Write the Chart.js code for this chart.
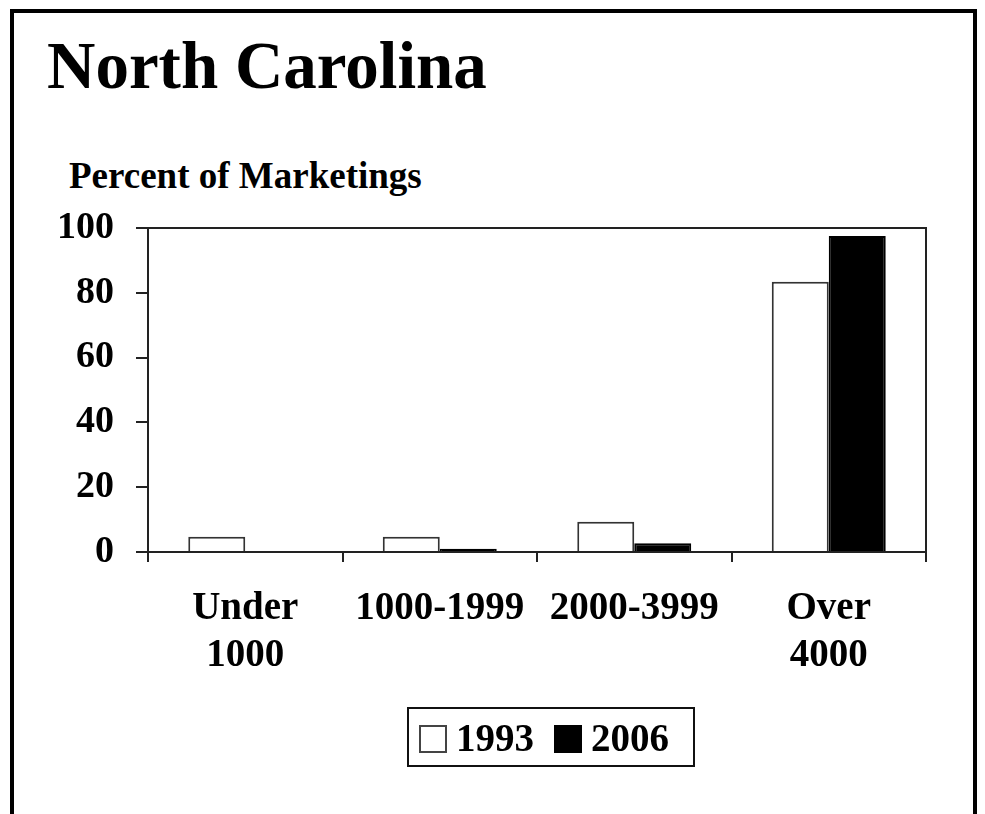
<!DOCTYPE html>
<html>
<head>
<meta charset="utf-8">
<title>North Carolina</title>
<script src="https://cdn.jsdelivr.net/npm/chart.js@4.4.1/dist/chart.umd.min.js"></script>
<style>
  html, body { margin: 0; padding: 0; background: #fff; }
  body {
    width: 985px; height: 814px; position: relative; overflow: hidden;
    font-family: "Liberation Serif", "Times New Roman", serif; font-weight: bold; color: #000;
  }
  #frame { position: absolute; left: 10px; top: 9px; width: 967px; height: 900px; border: 4px solid #000; box-sizing: border-box; }
  h1 { position: absolute; left: 47px; top: 32px; margin: 0; font-size: 67px; line-height: 1; font-weight: bold; }
  #ylabel { position: absolute; left: 69px; top: 157px; font-size: 37px; line-height: 1; }
  #chart-wrap { position: absolute; left: 0; top: 0; width: 985px; height: 814px; }
  #legend {
    position: absolute; left: 407px; top: 707px; width: 288px; height: 60px;
    border: 2px solid #111; box-sizing: border-box;
    display: flex; align-items: center; padding-left: 10px;
  }
  #legend .item { display: flex; align-items: center; margin-right: 20px; }
  #legend .swatch { width: 28px; height: 28px; box-sizing: border-box; border: 2px solid #444; margin-right: 9px; margin-top: 3px; }
  #legend .text { font-size: 39px; line-height: 1; }
</style>
</head>
<body>
<div id="frame"></div>
<h1>North Carolina</h1>
<div id="ylabel">Percent of Marketings</div>
<div id="chart-wrap"><canvas id="chart" width="985" height="814"></canvas></div>
<div id="legend"></div>
<script>
// categorías (tamaño de granja) y valores
const CATEGORIES = [['Under', '1000'], '1000-1999', '2000-3999', ['Over', '4000']];
const YEARS = ['1993', '2006'];
const VALUES_1993 = [4.7, 4.7, 9.3, 83.4];
const VALUES_2006 = [0, 1.0, 2.7, 97.5];
const Y_TICKS = [0, 20, 40, 60, 80, 100];

const FILLS = ['#ffffff', '#000000'];
const EDGES = ['#333333', '#000000'];
const FONT = '"Liberation Serif", "Times New Roman", serif';

// marco superior y derecho del área de trazado
const plotFrame = {
  id: 'plotFrame',
  afterDraw(chart) {
    const { ctx, chartArea: a } = chart;
    ctx.save();
    ctx.strokeStyle = '#222';
    ctx.lineWidth = 2;
    ctx.beginPath();
    ctx.moveTo(a.left, a.top);
    ctx.lineTo(a.right, a.top);
    ctx.lineTo(a.right, a.bottom);
    ctx.stroke();
    ctx.restore();
  },
};

const series = [VALUES_1993, VALUES_2006];

new Chart(document.getElementById('chart'), {
  type: 'bar',
  data: {
    labels: CATEGORIES,
    datasets: series.map((vals, i) => ({
      label: YEARS[i],
      data: vals,
      backgroundColor: FILLS[i],
      borderColor: EDGES[i],
      borderWidth: 2,
      borderSkipped: 'bottom',
      barPercentage: 1,
      categoryPercentage: 0.586,
    })),
  },
  options: {
    responsive: false,
    animation: false,
    devicePixelRatio: 1,
    layout: { padding: { left: 0, top: 228, right: 59, bottom: 0 } },
    plugins: { legend: { display: false }, tooltip: { enabled: false } },
    scales: {
      x: {
        afterFit: s => { s.height = 262; },
        grid: { offset: true, drawOnChartArea: false, drawTicks: true, tickLength: 10, color: '#222', lineWidth: 2 },
        border: { color: '#222', width: 2 },
        ticks: { color: '#000', padding: 24, maxRotation: 0, autoSkip: false, font: { family: FONT, size: 39, weight: 'bold', lineHeight: 1.2 } },
      },
      y: {
        min: Y_TICKS[0],
        max: Y_TICKS[Y_TICKS.length - 1],
        afterFit: s => { s.width = 148; },
        afterBuildTicks: s => { s.ticks = Y_TICKS.map(v => ({ value: v })); },
        grid: { drawOnChartArea: false, drawTicks: true, tickLength: 12, color: '#222', lineWidth: 2 },
        border: { color: '#222', width: 2 },
        ticks: { color: '#000', padding: 22, font: { family: FONT, size: 38, weight: 'bold' } },
      },
    },
  },
  plugins: [plotFrame],
});

// leyenda con recuadro, como en el original
document.getElementById('legend').innerHTML = YEARS.map((y, i) => `
  <div class="item">
    <span class="swatch" style="background:${FILLS[i]};border-color:${i ? '#000' : '#444'}"></span>
    <span class="text">${y}</span>
  </div>`).join('');
</script>
</body>
</html>
